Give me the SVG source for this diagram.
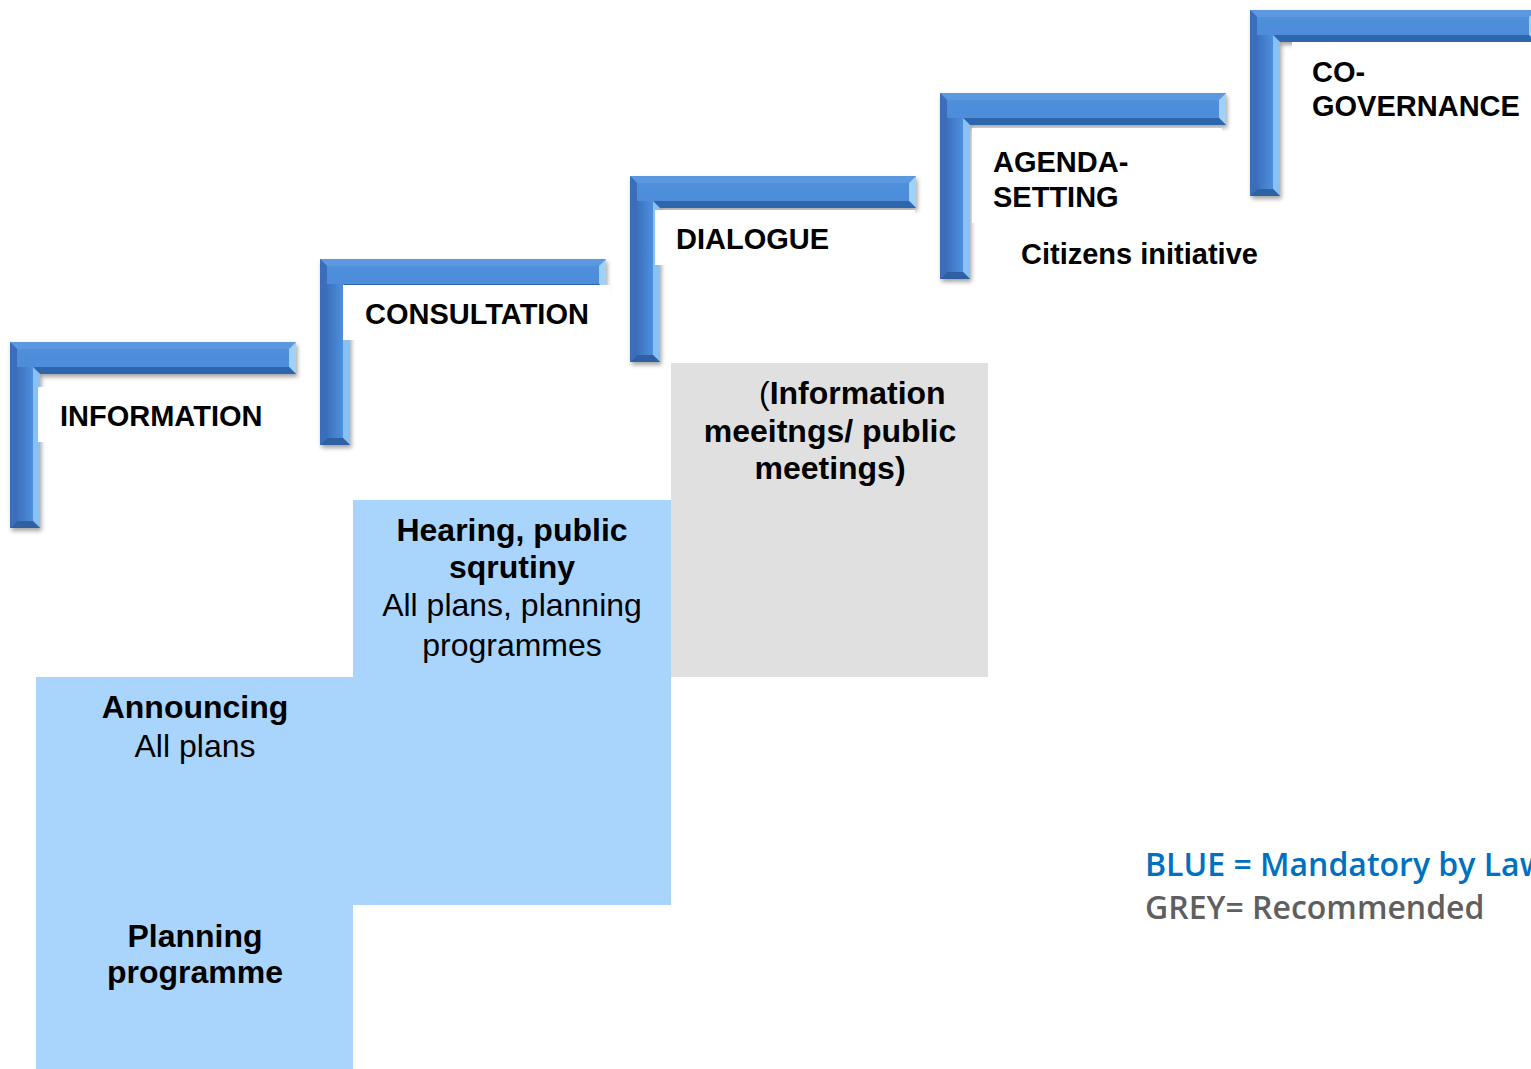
<svg xmlns="http://www.w3.org/2000/svg" width="1531" height="1069" viewBox="0 0 1531 1069">
  <style>
    .title { font-family: "Liberation Sans", Arial, sans-serif; font-weight: bold; font-size: 29px; fill: #000; }
    .body { font-family: "Liberation Sans", Arial, sans-serif; font-size: 32px; fill: #000; text-anchor: middle; }
    .b { font-weight: bold; }
    .start { text-anchor: start; }
    .label-box { fill: #fff; }
    .legend { font-family: "Open Sans", "Liberation Sans", sans-serif; font-weight: 600; font-size: 32px; }
  </style>
  <defs>
    <linearGradient id="faceH" x1="0" y1="0" x2="0" y2="1">
      <stop offset="0" stop-color="#4f8fdc"/>
      <stop offset="1" stop-color="#3a78c7"/>
    </linearGradient>
    <linearGradient id="faceV" x1="0" y1="0" x2="1" y2="0">
      <stop offset="0" stop-color="#3a71be"/>
      <stop offset="1" stop-color="#4f8fdc"/>
    </linearGradient>
    <filter id="shadow" x="-5%" y="-5%" width="115%" height="115%">
      <feDropShadow dx="1.5" dy="3" stdDeviation="2.2" flood-color="#000" flood-opacity="0.35"/>
    </filter>
    <!-- bevelled L-shaped step bracket, 286 x 186 -->
    <g id="bracket" filter="url(#shadow)">
      <path d="M0,0 H286 V32 H30 V186 H0 Z" fill="#3f7ecd"/>
      <path d="M7,7 H279 V25 H23 V179 H7 Z" fill="url(#faceH)"/>
      <path d="M23,25 V179 H7 V25 Z" fill="url(#faceV)"/>
      <path d="M0,0 H286 L279,7 H7 Z" fill="#5b98e0"/>
      <path d="M286,0 V32 L279,25 V7 Z" fill="#9fd1fb"/>
      <path d="M286,32 H30 L23,25 H279 Z" fill="#2f66ae"/>
      <path d="M30,32 V186 L23,179 V25 Z" fill="#88c2f5"/>
      <path d="M30,186 H0 L7,179 H23 Z" fill="#2e60a2"/>
      <path d="M0,0 L7,7 V179 L0,186 Z" fill="#3a6dba"/>
    </g>
  </defs>

  <rect width="1531" height="1069" fill="#fff"/>

  <!-- levels of the participation ladder -->
  <g id="step-information">
    <use href="#bracket" x="10" y="342"/>
    <rect class="label-box" x="38" y="387" width="262" height="55"/>
    <text class="title" x="60" y="426">INFORMATION</text>
  </g>

  <g id="step-consultation">
    <use href="#bracket" x="320" y="259"/>
    <rect class="label-box" x="343" y="285" width="267" height="55"/>
    <text class="title" x="365" y="324">CONSULTATION</text>
  </g>

  <g id="step-dialogue">
    <use href="#bracket" x="630" y="176"/>
    <rect class="label-box" x="655" y="210" width="260" height="55"/>
    <text class="title" x="676" y="249">DIALOGUE</text>
  </g>

  <g id="step-agenda-setting">
    <use href="#bracket" x="940" y="93"/>
    <rect class="label-box" x="972" y="128" width="250" height="95"/>
    <text class="title" x="993" y="172">AGENDA-</text>
    <text class="title" x="993" y="207">SETTING</text>
    <text class="title" x="1021" y="264">Citizens initiative</text>
  </g>

  <g id="step-co-governance">
    <use href="#bracket" x="1250" y="10"/>
    <rect class="label-box" x="1292" y="42" width="239" height="80"/>
    <text class="title" x="1312" y="82">CO-</text>
    <text class="title" x="1312" y="116">GOVERNANCE</text>
  </g>

  <!-- mandatory (blue) and recommended (grey) methods -->
  <g id="box-announcing">
    <rect x="36" y="677" width="317" height="392" fill="#a9d5fd"/>
    <text class="body b" x="195" y="718">Announcing</text>
    <text class="body" x="195" y="757">All plans</text>
  </g>

  <g id="box-hearing">
    <rect x="353" y="500" width="318" height="405" fill="#a9d5fd"/>
    <text class="body b" x="512" y="541">Hearing, public</text>
    <text class="body b" x="512" y="578">sqrutiny</text>
    <text class="body" x="512" y="616">All plans, planning</text>
    <text class="body" x="512" y="656">programmes</text>
  </g>

  <g id="box-planning-programme">
    <text class="body b" x="195" y="947">Planning</text>
    <text class="body b" x="195" y="983">programme</text>
  </g>

  <g id="box-information-meetings">
    <rect x="671" y="363" width="317" height="314" fill="#e0e0e0"/>
    <text class="body start" x="759" y="404">(<tspan class="b">Information</tspan></text>
    <text class="body b" x="830" y="442">meeitngs/ public</text>
    <text class="body b" x="830" y="479">meetings)</text>
  </g>

  <g id="connectors"/>

  <!-- legend -->
  <g id="legend">
    <text class="legend" x="1145" y="876" fill="#0070c0">BLUE = Mandatory by Law</text>
    <text class="legend" x="1145" y="919" fill="#5f5f5f">GREY= Recommended</text>
  </g>
</svg>
